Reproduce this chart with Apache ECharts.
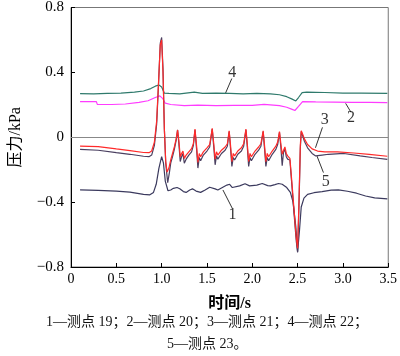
<!DOCTYPE html>
<html><head><meta charset="utf-8">
<script src="https://cdn.jsdelivr.net/npm/echarts@6/dist/echarts.min.js"></script>
<style>html,body{margin:0;padding:0;background:#fff}#c{width:400px;height:356px}</style>
</head><body><div id="c"></div>
<script>
// ---- data ----
const xTickLabels = ['0','0.5','1.0','1.5','2.0','2.5','3.0','3.5'];
const yTickLabels = ['−0.8','−0.4','0','0.4','0.8'];
const seriesNames = ['测点19','测点20','测点21','测点22','测点23'];
const caption1 = '1—测点 19；2—测点 20；3—测点 21；4—测点 22；';
const caption2 = '5—测点 23。';

// series 1 (测点19)
const t1 = [0.10,0.30,0.50,0.65,0.80,0.87,0.91,0.94,0.97,1.00,1.02,1.04,1.07,1.10,1.13,1.17,1.20,1.24,1.27,1.31,1.34,1.38,1.43,1.48,1.53,1.55,1.59,1.62,1.67,1.72,1.75,1.78,1.80,1.86,1.92,1.94,1.97,1.99,2.05,2.11,2.13,2.17,2.20,2.25,2.29,2.33,2.38,2.42,2.45,2.48,2.50,2.52,2.54,2.57,2.61,2.68,2.77,2.87,2.95,3.05,3.15,3.25,3.35,3.49];
const v1 = [-0.325,-0.328,-0.332,-0.338,-0.352,-0.355,-0.34,-0.29,-0.19,-0.12,-0.16,-0.27,-0.33,-0.325,-0.315,-0.31,-0.318,-0.335,-0.34,-0.325,-0.318,-0.332,-0.34,-0.325,-0.308,-0.305,-0.318,-0.325,-0.31,-0.295,-0.29,-0.31,-0.313,-0.30,-0.287,-0.285,-0.30,-0.305,-0.295,-0.285,-0.285,-0.298,-0.30,-0.292,-0.285,-0.29,-0.31,-0.34,-0.40,-0.55,-0.705,-0.58,-0.43,-0.375,-0.352,-0.342,-0.335,-0.326,-0.325,-0.333,-0.345,-0.362,-0.374,-0.38];

// series 2 (测点20)
const t2 = [0.10,0.28,0.29,0.45,0.60,0.75,0.85,0.93,0.98,1.01,1.04,1.10,1.25,1.40,1.60,1.80,2.00,2.13,2.15,2.30,2.38,2.44,2.47,2.51,2.555,2.70,2.90,3.10,3.30,3.49];
const v2 = [0.22,0.22,0.203,0.202,0.205,0.215,0.225,0.245,0.255,0.24,0.21,0.202,0.195,0.198,0.195,0.197,0.197,0.203,0.197,0.195,0.185,0.172,0.165,0.19,0.22,0.218,0.217,0.215,0.215,0.214];

// series 3 (测点21)
const t3 = [0.10,0.30,0.50,0.65,0.80,0.86,0.89,0.92,0.945,0.965,0.985,1.00,1.015,1.03,1.045,1.06,1.08,1.10,1.12,1.14,1.16,1.176,1.19,1.205,1.22,1.235,1.25,1.27,1.30,1.33,1.35,1.368,1.385,1.40,1.415,1.43,1.46,1.50,1.53,1.558,1.575,1.59,1.605,1.62,1.66,1.70,1.725,1.745,1.76,1.775,1.79,1.805,1.84,1.88,1.905,1.93,1.945,1.96,1.975,1.99,2.03,2.07,2.095,2.12,2.135,2.15,2.165,2.18,2.22,2.26,2.28,2.30,2.315,2.33,2.345,2.36,2.375,2.39,2.415,2.44,2.465,2.485,2.50,2.515,2.53,2.54,2.555,2.575,2.61,2.66,2.72,2.80,2.94,3.12,3.29,3.49];
const v3 = [-0.055,-0.058,-0.072,-0.082,-0.094,-0.095,-0.085,-0.03,0.10,0.33,0.57,0.60,0.40,0.05,-0.15,-0.215,-0.19,-0.14,-0.10,-0.06,-0.01,0.045,-0.02,-0.12,-0.10,-0.085,-0.13,-0.11,-0.09,-0.07,-0.04,0.05,-0.05,-0.155,-0.10,-0.12,-0.09,-0.065,-0.045,0.055,-0.04,-0.135,-0.09,-0.11,-0.08,-0.06,-0.04,0.04,-0.05,-0.15,-0.10,-0.115,-0.085,-0.065,-0.04,0.05,-0.04,-0.15,-0.10,-0.12,-0.085,-0.06,-0.04,0.04,-0.05,-0.15,-0.10,-0.12,-0.085,-0.055,-0.03,0.035,-0.04,-0.105,-0.08,-0.06,-0.10,-0.115,-0.13,-0.30,-0.48,-0.62,-0.685,-0.40,-0.05,0.04,0.02,-0.01,-0.045,-0.072,-0.085,-0.09,-0.09,-0.097,-0.106,-0.117];

// series 4 (测点22)
const t4 = [0.10,0.25,0.40,0.55,0.70,0.80,0.88,0.93,0.97,1.00,1.03,1.08,1.20,1.36,1.45,1.60,1.75,1.90,2.05,2.20,2.30,2.38,2.44,2.48,2.51,2.55,2.60,2.80,3.00,3.20,3.49];
const v4 = [0.269,0.268,0.27,0.272,0.278,0.285,0.30,0.315,0.322,0.31,0.272,0.27,0.268,0.278,0.27,0.272,0.27,0.268,0.27,0.268,0.262,0.25,0.235,0.224,0.245,0.275,0.278,0.276,0.272,0.272,0.27];

// series 5 (测点23)
const t5 = [0.10,0.30,0.50,0.65,0.80,0.86,0.89,0.92,0.945,0.965,0.985,1.00,1.015,1.03,1.045,1.067,1.085,1.10,1.12,1.14,1.16,1.176,1.19,1.205,1.22,1.235,1.25,1.27,1.30,1.33,1.35,1.368,1.385,1.40,1.415,1.43,1.46,1.50,1.53,1.558,1.575,1.59,1.605,1.62,1.66,1.70,1.725,1.745,1.76,1.775,1.79,1.805,1.84,1.88,1.905,1.93,1.945,1.96,1.975,1.99,2.03,2.07,2.095,2.12,2.135,2.15,2.165,2.18,2.22,2.26,2.28,2.30,2.315,2.33,2.345,2.36,2.375,2.39,2.415,2.44,2.465,2.485,2.50,2.515,2.53,2.54,2.555,2.575,2.61,2.66,2.70,2.77,2.84,3.01,3.19,3.32,3.49];
const v5 = [-0.075,-0.08,-0.095,-0.105,-0.117,-0.12,-0.11,-0.05,0.08,0.32,0.58,0.615,0.42,0.05,-0.16,-0.28,-0.22,-0.16,-0.12,-0.075,-0.02,0.045,-0.04,-0.15,-0.12,-0.10,-0.16,-0.135,-0.11,-0.09,-0.05,0.045,-0.07,-0.19,-0.125,-0.145,-0.11,-0.085,-0.06,0.05,-0.06,-0.17,-0.115,-0.135,-0.10,-0.08,-0.055,0.035,-0.07,-0.18,-0.125,-0.14,-0.105,-0.085,-0.055,0.045,-0.06,-0.18,-0.125,-0.145,-0.105,-0.08,-0.055,0.035,-0.07,-0.18,-0.125,-0.145,-0.105,-0.075,-0.045,0.03,-0.06,-0.175,-0.09,-0.075,-0.12,-0.135,-0.14,-0.32,-0.50,-0.64,-0.71,-0.42,-0.07,0.035,0.01,-0.025,-0.065,-0.10,-0.115,-0.11,-0.105,-0.10,-0.115,-0.125,-0.136];

// annotation labels: text, label position, leader start, leader end (data coords)
const annoText = ['1','2','3','4','5'];
const annoLabel = [[1.781,-0.48],[3.09,0.118],[2.80,0.11],[1.78,0.40],[2.81,-0.275]];
const annoFrom  = [[1.781,-0.44],[3.09,0.153],[2.774,0.061],[1.774,0.362],[2.785,-0.218]];
const annoTo    = [[1.676,-0.325],[3.03,0.209],[2.697,-0.065],[1.704,0.271],[2.714,-0.116]];

// ---- chart ----
const zip = (t, v) => t.map((x, i) => [x, v[i]]);
const serif = "'Liberation Serif','Times New Roman','Noto Sans CJK SC',serif";
const colors = ['#3b3a5e','#ff3cff','#ff2a2a','#2f7a6c','#4a3f60'];
const tArr = [t1,t2,t3,t4,t5], vArr = [v1,v2,v3,v4,v5];
const order = [0,1,3,4,2];
const series = order.map(i => ({
  name: seriesNames[i], type: 'line', data: zip(tArr[i], vArr[i]),
  showSymbol: false, symbol: 'none', smooth: false, silent: true,
  lineStyle: { color: colors[i], width: 1.2 }, z: 3 + order.indexOf(i)
}));
series.push({
  type: 'line', data: [], silent: true, z: 1,
  markLine: { silent: true, symbol: 'none', label: { show: false },
    lineStyle: { color: '#888', width: 1, type: 'solid' },
    data: [{ yAxis: 0 }] }
});
series.push({
  type: 'line', data: [], silent: true, z: 10,
  markLine: { silent: true, symbol: 'none', label: { show: false },
    lineStyle: { color: '#000', width: 0.8, type: 'solid' },
    data: annoFrom.map((f, i) => [{ coord: f }, { coord: annoTo[i] }]) }
});
series.push({
  type: 'scatter', silent: true, z: 10, symbolSize: 0,
  data: annoLabel.map((p, i) => ({ value: p, name: annoText[i] })),
  label: { show: true, position: 'inside', formatter: p => p.name,
    fontFamily: serif, fontSize: 16, color: '#000' }
});

const chart = echarts.init(document.getElementById('c'), null, { renderer: 'canvas' });
chart.setOption({
  animation: false,
  backgroundColor: '#fff',
  grid: { left: 62, top: 5, right: 8, bottom: 89, show: true, borderColor: '#777', borderWidth: 1, backgroundColor: 'transparent' },
  xAxis: {
    type: 'value', min: 0, max: 3.5, interval: 0.5,
    name: '时间/s', nameLocation: 'middle', nameGap: 29,
    nameTextStyle: { fontFamily: serif, fontSize: 16, fontWeight: 'bold', color: '#000' },
    axisLine: { onZero: false, lineStyle: { color: '#000', width: 1 } },
    axisTick: { inside: true, length: 4, lineStyle: { color: '#000' } },
    axisLabel: { fontFamily: serif, fontSize: 14, color: '#000', margin: 5,
      formatter: v => xTickLabels[Math.round(v / 0.5)] },
    splitLine: { show: false }
  },
  yAxis: {
    type: 'value', min: -0.8, max: 0.8, interval: 0.4,
    name: '压力/kPa', nameLocation: 'middle', nameGap: 47, nameRotate: 90,
    nameTextStyle: { fontFamily: serif, fontSize: 16, color: '#000' },
    axisLine: { onZero: false, lineStyle: { color: '#000', width: 1 } },
    axisTick: { inside: true, length: 4, lineStyle: { color: '#000' } },
    axisLabel: { fontFamily: serif, fontSize: 15, color: '#000', margin: 7,
      formatter: v => yTickLabels[Math.round((v + 0.8) / 0.4)] },
    splitLine: { show: false }
  },
  graphic: [
    { type: 'text', left: 46, top: 315, style: { text: caption1, fontFamily: serif, fontSize: 14, fill: '#111' } },
    { type: 'text', left: 167, top: 337, style: { text: caption2, fontFamily: serif, fontSize: 14, fill: '#111' } }
  ],
  series: series
});
</script></body></html>
